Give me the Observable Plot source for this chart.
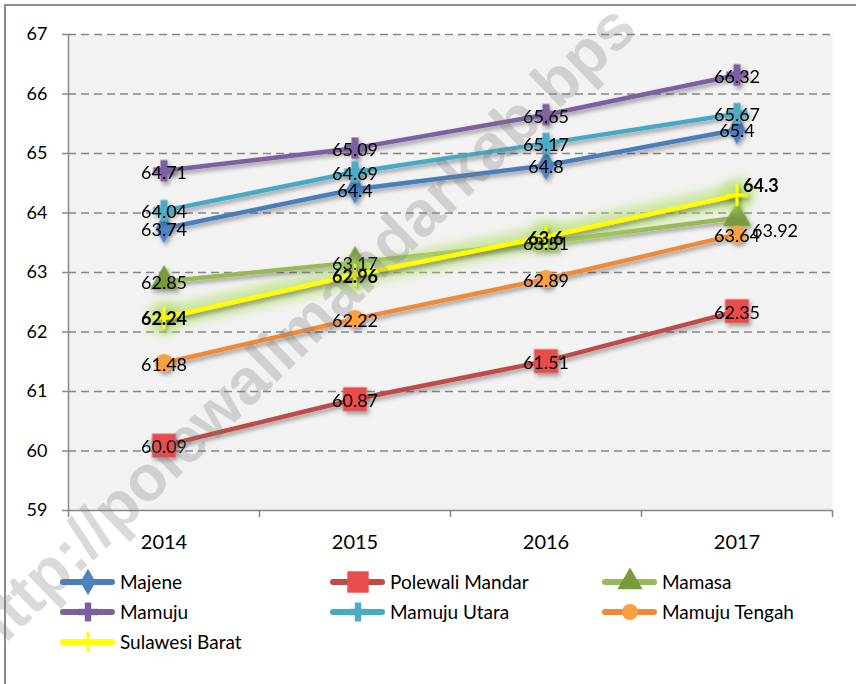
<!DOCTYPE html>
<html>
<head>
<meta charset="utf-8">
<script src="https://cdn.jsdelivr.net/npm/d3@7"></script>
<script src="https://cdn.jsdelivr.net/npm/@observablehq/plot@0.6"></script>
<style>
  html, body { margin: 0; padding: 0; background: #fff; }
  #wrap { position: relative; width: 856px; height: 684px; overflow: hidden; font-family: Lato, "Open Sans", sans-serif; }
  #border { position: absolute; left: 4px; top: 4px; width: 880px; height: 700px; border: 2px solid #8c8c8c; box-sizing: border-box; }
  #chart { position: absolute; left: 0; top: 0; }
  #legend { position: absolute; left: 0; top: 560px; }
  #wm { position: absolute; left: 0; top: 0; pointer-events: none; }
</style>
</head>
<body>
<div id="wrap">
  <div id="border"></div>
  <div id="chart"></div>
  <div id="legend"></div>
  <div id="wm"></div>
</div>
<script>
// ---- data ----
const years = ["2014", "2015", "2016", "2017"];
const series = ["Majene", "Polewali Mandar", "Mamasa", "Mamuju", "Mamuju Utara", "Mamuju Tengah", "Sulawesi Barat"];
const majene = [63.74, 64.4, 64.8, 65.4];
const polewaliMandar = [60.09, 60.87, 61.51, 62.35];
const mamasa = [62.85, 63.17, 63.51, 63.92];
const mamuju = [64.71, 65.09, 65.65, 66.32];
const mamujuUtara = [64.04, 64.69, 65.17, 65.67];
const mamujuTengah = [61.48, 62.22, 62.89, 63.64];
const sulawesiBarat = [62.24, 62.96, 63.6, 64.3];
const yTicks = [59, 60, 61, 62, 63, 64, 65, 66, 67];
const watermark = "http://polewalimandarkab.bps";

// ---- styles ----
const lineColors = ["#4a7ebb", "#be4b48", "#98b954", "#7d60a0", "#46aac5", "#f08a38", "#ffff00"];
const markerFills = ["#4f81bd", "#e84d4b", "#7a9a3e", "#7e60a1", "#4bacc6", "#f9a040", "none"];
const markerStrokes = ["none", "none", "none", "none", "none", "none", "#ffff00"];
const symbols = ["diamond", "square", "triangle", "cross", "cross", "circle", "plus"];
const radii = [9, 13.5, 10.5, 9, 9, 9, 7];
const d3Symbols = { diamond: d3.symbolDiamond, square: d3.symbolSquare, triangle: d3.symbolTriangle, cross: d3.symbolCross, circle: d3.symbolCircle, plus: d3.symbolPlus };

const valuesBySeries = [majene, polewaliMandar, mamasa, mamuju, mamujuUtara, mamujuTengah, sulawesiBarat];
const rows = series.flatMap((s, k) => valuesBySeries[k].map((v, i) => ({ series: s, i, year: years[i], value: v })));

const gridColor = "#878787";
const marks = [
  Plot.frame({ fill: "#f2f2f2", stroke: null }),
  Plot.ruleY(yTicks.filter(t => t > yTicks[0]), { stroke: gridColor, strokeWidth: 1.5, strokeDasharray: "8,5" }),
  Plot.ruleX([-0.5], { stroke: gridColor, strokeWidth: 1.5 }),
  Plot.ruleY([yTicks[0]], { stroke: gridColor, strokeWidth: 1.5 }),
  Plot.axisY({ ticks: yTicks, tickSize: 6, tickPadding: 15, fontSize: 18, stroke: gridColor, strokeWidth: 1.5, tickFormat: d => String(d), label: null }),
  Plot.axisX({ ticks: [-0.5, 0.5, 1.5, 2.5, 3.5], tickSize: 7, stroke: gridColor, strokeWidth: 1.5, tickFormat: () => "", label: null }),
  Plot.axisX({ ticks: [0, 1, 2, 3], tickSize: 0, tickPadding: 24, fontSize: 20, tickFormat: i => years[i], label: null })
];

series.forEach((s, k) => {
  const d = rows.filter(r => r.series === s);
  if (s === "Sulawesi Barat") {
    marks.push(Plot.line(d, { x: "i", y: "value", stroke: "#b2de6a", strokeWidth: 22, strokeOpacity: 0.6, strokeLinecap: "round", ariaDescription: "glow" }));
    marks.push(Plot.dot(d, { x: "i", y: "value", r: 17, fill: "#b2de6a", fillOpacity: 0.6, ariaDescription: "glow" }));
  }
  marks.push(Plot.line(d, { x: "i", y: "value", stroke: lineColors[k], strokeWidth: 4.5, ariaDescription: "shadow" }));
  marks.push(Plot.dot(d, {
    x: "i", y: "value", symbol: symbols[k], r: radii[k],
    fill: markerFills[k], stroke: markerStrokes[k], strokeWidth: 3, ariaDescription: "shadow"
  }));
});

const isSpecial = r => r.i === 3 && (r.series === "Mamasa" || r.series === "Sulawesi Barat");
marks.push(
  Plot.text(rows.filter(r => r.series !== "Sulawesi Barat" && !isSpecial(r)), { x: "i", y: "value", text: d => String(d.value), fontSize: 18, fill: "#000", dy: 2 }),
  Plot.text(rows.filter(r => r.series === "Sulawesi Barat" && !isSpecial(r)), { x: "i", y: "value", text: d => String(d.value), fontSize: 18, fontWeight: "bold", fill: "#000", dy: 2 }),
  Plot.text(rows.filter(r => isSpecial(r) && r.series === "Mamasa"), { x: "i", y: "value", text: d => String(d.value), fontSize: 18, fill: "#000", textAnchor: "start", dx: 15, dy: 13 }),
  Plot.text(rows.filter(r => isSpecial(r) && r.series === "Sulawesi Barat"), { x: "i", y: "value", text: d => String(d.value), fontSize: 18, fontWeight: "bold", fill: "#000", textAnchor: "start", dx: 6, dy: -9 })
);

const chart = Plot.plot({
  width: 856, height: 560,
  marginLeft: 68, marginRight: 24, marginTop: 34, marginBottom: 50,
  style: { fontFamily: "Lato, 'Open Sans', sans-serif", background: "transparent", color: "#000", overflow: "visible" },
  x: { type: "linear", domain: [-0.5, 3.5] },
  y: { domain: [yTicks[0], yTicks[yTicks.length - 1]] },
  marks
});

const defs = d3.select(chart).insert("defs", ":first-child");
defs.append("filter").attr("id", "shadow").attr("x", "-20%").attr("y", "-20%").attr("width", "140%").attr("height", "140%")
  .append("feDropShadow").attr("dx", 2).attr("dy", 3).attr("stdDeviation", 2).attr("flood-color", "#000").attr("flood-opacity", 0.35);
defs.append("filter").attr("id", "glow").attr("x", "-20%").attr("y", "-50%").attr("width", "140%").attr("height", "200%")
  .append("feGaussianBlur").attr("stdDeviation", 5);
chart.querySelectorAll('[aria-description="shadow"]').forEach(g => g.setAttribute("filter", "url(#shadow)"));
chart.querySelectorAll('[aria-description="glow"]').forEach(g => g.setAttribute("filter", "url(#glow)"));
document.getElementById("chart").appendChild(chart);

// ---- legend ----
const legendCols = [60, 330, 602];
const legendRows = [22, 52, 82];
const lg = d3.select("#legend").append("svg").attr("width", 856).attr("height", 124)
  .style("font-family", "Lato, 'Open Sans', sans-serif");
series.forEach((s, k) => {
  const x = legendCols[k % 3], y = legendRows[Math.floor(k / 3)];
  const g = lg.append("g").attr("transform", `translate(${x},${y})`);
  g.append("line").attr("x1", 3).attr("x2", 52).attr("y1", 0).attr("y2", 0)
    .attr("stroke", lineColors[k]).attr("stroke-width", 6).attr("stroke-linecap", "round");
  const size = Math.PI * radii[k] * radii[k] * 0.8;
  g.append("path").attr("transform", "translate(28,0)")
    .attr("d", d3.symbol().type(d3Symbols[symbols[k]]).size(size)())
    .attr("fill", markerFills[k]).attr("stroke", markerStrokes[k]).attr("stroke-width", 3);
  g.append("text").attr("x", 60).attr("y", 0).attr("dy", "0.35em").attr("font-size", 19).attr("fill", "#000").text(s);
});

// ---- watermark ----
d3.select("#wm").append("svg").attr("width", 856).attr("height", 684)
  .append("text")
  .attr("transform", "translate(624,16) rotate(-44)")
  .attr("text-anchor", "end").attr("dominant-baseline", "central")
  .attr("font-family", "'Liberation Sans', Arial, sans-serif").attr("font-weight", "bold").attr("font-size", 64)
  .attr("fill", "#7a7a7a").attr("fill-opacity", 0.28)
  .text(watermark);
</script>
</body>
</html>
